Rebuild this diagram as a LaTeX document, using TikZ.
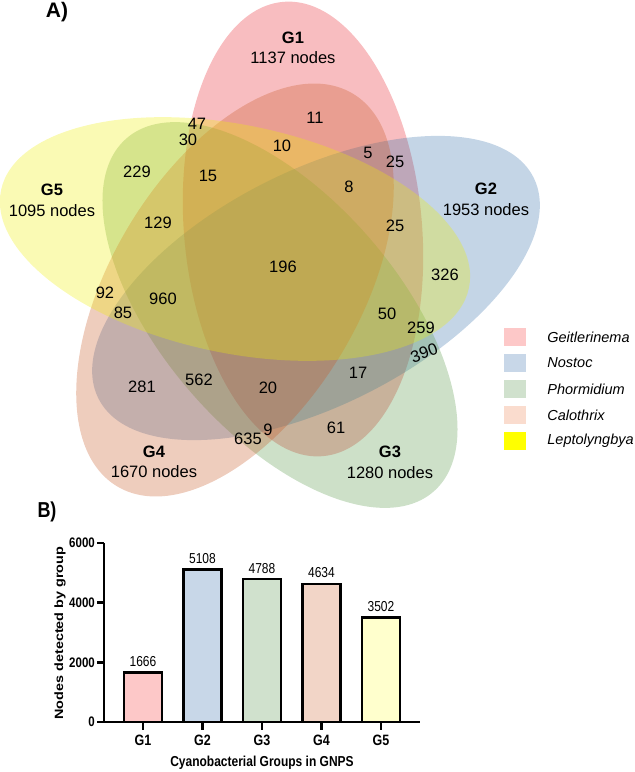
\documentclass[tikz,border=0pt]{standalone}
\usepackage{fontspec}
\setmainfont{Liberation Sans}
\usepackage{graphicx}
\usetikzlibrary{positioning}
\definecolor{geitfill}{RGB}{232,38,45}
\definecolor{nostfill}{RGB}{58,115,172}
\definecolor{phorfill}{RGB}{88,152,72}
\definecolor{calofill}{RGB}{198,88,38}
\definecolor{leptfill}{RGB}{238,238,5}
\definecolor{geitkey}{RGB}{253,200,200}
\definecolor{nostkey}{RGB}{200,215,232}
\definecolor{phorkey}{RGB}{208,225,205}
\definecolor{calokey}{RGB}{250,220,206}
\definecolor{leptkey}{RGB}{255,255,0}
\definecolor{calobar}{RGB}{242,213,199}
\definecolor{leptbar}{RGB}{255,255,205}
\newcommand{\tallbox}[1]{\scalebox{1}[1.2]{#1}}

\begin{document}
\begin{tikzpicture}[x=1pt, y=-1pt,
    set/.style={fill opacity=0.3},
    num/.style={font=\fontsize{16.5}{18}\selectfont, inner sep=0pt},
    grp/.style={font=\fontsize{16.5}{18}\selectfont\bfseries, inner sep=0pt},
    panel/.style={font=\fontsize{21}{24}\selectfont\bfseries, inner sep=0pt},
    key/.style={minimum width=22pt, minimum height=18pt, inner sep=0pt},
    keytext/.style={font=\fontsize{14.5}{16}\selectfont\itshape, anchor=west, inner sep=0pt},
    bar/.style={draw=black, line width=2.4pt},
    axis/.style={line width=2.4pt},
    chart/.style={font=\fontsize{12}{14}\selectfont, inner sep=0pt},
    chartbold/.style={font=\fontsize{12}{14}\selectfont\bfseries, inner sep=0pt},
]
    \useasboundingbox (0,0) rectangle (635,772);

    % A) five-set Venn
    \node[panel] (pa) at (57,12) {A)};
    \fill[set, geitfill] (303,229) ellipse [x radius=228pt, y radius=119pt, rotate=95];
    \fill[set, nostfill] (316,288) ellipse [x radius=244pt, y radius=117pt, rotate=27];
    \fill[set, phorfill] (280,315) ellipse [x radius=234pt, y radius=118pt, rotate=-49];
    \fill[set, calofill] (235,290) ellipse [x radius=229pt, y radius=124pt, rotate=59];
    \fill[set, leptfill] (235,239) ellipse [x radius=239pt, y radius=114pt, rotate=-11.8];

    \node[grp] (g1) at (293,38) {G1};
    \node[num] (g1n) at (293,58) {1137 nodes};
    \node[grp] (g2) at (486,189) {G2};
    \node[num] (g2n) at (486,210) {1953 nodes};
    \node[grp] (g3) at (390,452) {G3};
    \node[num] (g3n) at (390,473) {1280 nodes};
    \node[grp] (g4) at (154,452) {G4};
    \node[num] (g4n) at (154,472) {1670 nodes};
    \node[grp] (g5) at (52,190) {G5};
    \node[num] (g5n) at (52,211) {1095 nodes};

    \node[num] (n11) at (315,118) {11};
    \node[num] (n47) at (197,124) {47};
    \node[num] (n30) at (188,140) {30};
    \node[num] (n10) at (282,146) {10};
    \node[num] (n5) at (368,153) {5};
    \node[num] (n25a) at (395,162) {25};
    \node[num] (n229) at (137,172) {229};
    \node[num] (n15) at (208,176) {15};
    \node[num] (n8) at (349,187) {8};
    \node[num] (n129) at (158,223) {129};
    \node[num] (n25b) at (395,226) {25};
    \node[num] (n196) at (283,267) {196};
    \node[num] (n326) at (445,275) {326};
    \node[num] (n92) at (105,293) {92};
    \node[num] (n960) at (163,299) {960};
    \node[num] (n85) at (123,313) {85};
    \node[num] (n50) at (387,314) {50};
    \node[num] (n259) at (421,328) {259};
    \node[num, rotate=20] (n390) at (424,353) {390};
    \node[num] (n17) at (358,373) {17};
    \node[num] (n562) at (199,380) {562};
    \node[num] (n281) at (142,387) {281};
    \node[num] (n20) at (268,388) {20};
    \node[num] (n9) at (268,430) {9};
    \node[num] (n61) at (336,428) {61};
    \node[num] (n635) at (248,439) {635};

    % legend
    \node[key, fill=geitkey] (k1) at (515,337) {};
    \node[key, fill=nostkey] (k2) at (515,363) {};
    \node[key, fill=phorkey] (k3) at (515,389) {};
    \node[key, fill=calokey] (k4) at (515,415) {};
    \node[key, fill=leptkey] (k5) at (515,441) {};
    \node[keytext, right=21pt of k1] (t1) {Geitlerinema};
    \node[keytext, right=21pt of k2] (t2) {Nostoc};
    \node[keytext, right=21pt of k3] (t3) {Phormidium};
    \node[keytext, right=21pt of k4] (t4) {Calothrix};
    \node[keytext, right=21pt of k5] (t5) {Leptolyngbya};

    % B) bar chart
    \node[panel, font=\fontsize{18}{20}\selectfont\bfseries] (pb) at (47,512) {\tallbox{B)}};
    \foreach \grp/\val/\col [count=\i] in {G1/1666/geitkey, G2/5108/nostkey, G3/4788/phorkey, G4/4634/calobar, G5/3502/leptbar} {
        \pgfmathsetmacro{\xc}{143+(\i-1)*59.5}
        \pgfmathsetmacro{\ytop}{722-\val/6000*179}
        \draw[bar, fill=\col] (\xc-19,722) rectangle (\xc+19,\ytop);
        \node[chart] (v\i) at (\xc,\ytop-11) {\tallbox{\val}};
        \draw[axis] (\xc,722) -- (\xc,730);
        \node[chartbold, font=\fontsize{12.5}{14}\selectfont\bfseries] (b\i) at (\xc,740) {\tallbox{\grp}};
    }
    \draw[axis] (104,543) -- (104,722) -- (420,722);
    \foreach \tick [count=\j from 0] in {0,2000,4000,6000} {
        \draw[axis] (104,722-\j*59.67) -- (97,722-\j*59.67);
        \node[chartbold, font=\fontsize{11.5}{13}\selectfont\bfseries, anchor=east] (y\j) at (95,722-\j*59.67) {\tallbox{\tick}};
    }
    \node[chartbold] (xtitle) at (262,763) {\tallbox{Cyanobacterial Groups in GNPS}};
    \node[chartbold, rotate=90] (ytitle) at (60,633) {\scalebox{1.2}[1]{Nodes detected by group}};
\end{tikzpicture}
\end{document}
